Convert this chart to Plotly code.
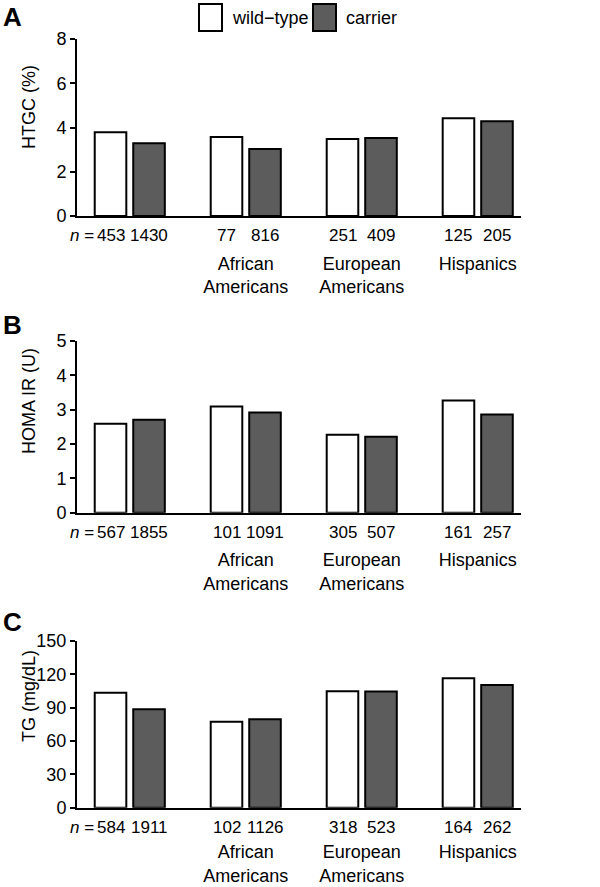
import plotly.graph_objects as go

W, H = 600, 887

groups = ["All", "African Americans", "European Americans", "Hispanics"]
group_labels = ["", "African<br>Americans", "European<br>Americans", "Hispanics"]

htgc_wt = [3.79, 3.57, 3.48, 4.42]
htgc_car = [3.29, 3.03, 3.53, 4.28]
htgc_n_wt = ["453", "77", "251", "125"]
htgc_n_car = ["1430", "816", "409", "205"]

homa_wt = [2.59, 3.09, 2.27, 3.27]
homa_car = [2.71, 2.92, 2.21, 2.86]
homa_n_wt = ["567", "101", "305", "161"]
homa_n_car = ["1855", "1091", "507", "257"]

tg_wt = [103.5, 77.4, 104.8, 116.5]
tg_car = [88.6, 79.5, 104.5, 110.4]
tg_n_wt = ["584", "102", "318", "164"]
tg_n_car = ["1911", "1126", "523", "262"]

panels = [
    dict(letter="A", title="HTGC (%)", wt=htgc_wt, car=htgc_car, nwt=htgc_n_wt, ncar=htgc_n_car,
         ymax=8, dtick=2, px_top=39, px_bot=216, title_y=107, letter_y=17, lab_gap=30),
    dict(letter="B", title="HOMA IR (U)", wt=homa_wt, car=homa_car, nwt=homa_n_wt, ncar=homa_n_car,
         ymax=5, dtick=1, px_top=341, px_bot=512.7, title_y=401, letter_y=325, lab_gap=30),
    dict(letter="C", title="TG (mg/dL)", wt=tg_wt, car=tg_car, nwt=tg_n_wt, ncar=tg_n_car,
         ymax=150, dtick=30, px_top=641, px_bot=807.7, title_y=696, letter_y=622, lab_gap=27),
]

WT_COLOR = "white"
CAR_COLOR = "#5c5c5c"
FONT = "Liberation Sans, Arial, Helvetica, sans-serif"
FS = 18
FS_N = 17

BARGAP = 0.336
BARGROUPGAP = 0.18
half_slot = (1 - BARGAP) / 4          # offset of each bar center from category center
bar_half_w = half_slot * (1 - BARGROUPGAP)

x_px0, x_px1 = 77, 521
x_range = [-0.455, 3.373]

fig = go.Figure()
annotations = []
layout_axes = {}

for k, p in enumerate(panels):
    sfx = "" if k == 0 else str(k + 1)
    xa, ya = "x" + sfx, "y" + sfx
    fig.add_trace(go.Bar(x=groups, y=p["wt"], name="wild−type", xaxis=xa, yaxis=ya,
                         marker=dict(color=WT_COLOR, line=dict(color="black", width=2)),
                         showlegend=False, hoverinfo="y"))
    fig.add_trace(go.Bar(x=groups, y=p["car"], name="carrier", xaxis=xa, yaxis=ya,
                         marker=dict(color=CAR_COLOR, line=dict(color="black", width=2)),
                         showlegend=False, hoverinfo="y"))
    ydom = [1 - p["px_bot"] / H, 1 - p["px_top"] / H]
    layout_axes["xaxis" + sfx] = dict(
        domain=[x_px0 / W, x_px1 / W], anchor=ya, type="category",
        categoryorder="array", categoryarray=groups, range=x_range,
        tickvals=groups, ticktext=group_labels,
        showline=True, linecolor="black", linewidth=2,
        ticks="outside", ticklen=p["lab_gap"], tickcolor="rgba(0,0,0,0)",
        showgrid=False, zeroline=False,
        tickfont=dict(family=FONT, size=FS, color="black"),
    )
    layout_axes["yaxis" + sfx] = dict(
        domain=ydom, anchor=xa, range=[0, p["ymax"]], dtick=p["dtick"], tick0=0,
        showline=True, linecolor="black", linewidth=2,
        ticks="outside", ticklen=5, tickwidth=2, tickcolor="black",
        showgrid=False, zeroline=False,
        tickfont=dict(family=FONT, size=FS, color="black"),
    )
    # n labels
    for i, g in enumerate(groups):
        annotations.append(dict(x=i - half_slot, y=0, xref=xa, yref=ya, text=p["nwt"][i],
                                showarrow=False, yanchor="top", yshift=-8,
                                font=dict(family=FONT, size=FS_N, color="black")))
        annotations.append(dict(x=i + half_slot, y=0, xref=xa, yref=ya, text=p["ncar"][i],
                                showarrow=False, yanchor="top", yshift=-8,
                                font=dict(family=FONT, size=FS_N, color="black")))
    annotations.append(dict(x=0 - half_slot - bar_half_w, y=0, xref=xa, yref=ya,
                            text="<i>n</i> =", showarrow=False, xanchor="right",
                            yanchor="top", yshift=-8, xshift=1,
                            font=dict(family=FONT, size=FS_N, color="black")))
    # y axis title
    annotations.append(dict(x=29 / W, y=1 - p["title_y"] / H, xref="paper", yref="paper",
                            text=p["title"], textangle=-90, showarrow=False,
                            xanchor="center", yanchor="middle",
                            font=dict(family=FONT, size=FS, color="black")))
    # panel letter
    annotations.append(dict(x=1 / W, y=1 - p["letter_y"] / H, xref="paper", yref="paper",
                            text="<b>" + p["letter"] + "</b>", showarrow=False,
                            xanchor="left", yanchor="middle",
                            font=dict(family=FONT, size=26, color="black")))

# custom legend
shapes = [
    dict(type="rect", xref="paper", yref="paper", x0=199 / W, x1=222 / W,
         y0=1 - 31 / H, y1=1 - 4 / H, fillcolor=WT_COLOR, line=dict(color="black", width=2)),
    dict(type="rect", xref="paper", yref="paper", x0=313 / W, x1=336 / W,
         y0=1 - 31 / H, y1=1 - 4 / H, fillcolor=CAR_COLOR, line=dict(color="black", width=2)),
]
annotations.append(dict(x=230 / W, y=1 - 18 / H, xref="paper", yref="paper", text="wild−type",
                        showarrow=False, xanchor="left", yanchor="middle",
                        font=dict(family=FONT, size=FS, color="black")))
annotations.append(dict(x=344 / W, y=1 - 18 / H, xref="paper", yref="paper", text="carrier",
                        showarrow=False, xanchor="left", yanchor="middle",
                        font=dict(family=FONT, size=FS, color="black")))

fig.update_layout(
    width=W, height=H,
    margin=dict(l=0, r=0, t=0, b=0, autoexpand=False),
    paper_bgcolor="white", plot_bgcolor="white",
    barmode="group", bargap=BARGAP, bargroupgap=BARGROUPGAP,
    annotations=annotations, shapes=shapes,
    font=dict(family=FONT, size=FS, color="black"),
    **layout_axes,
)

post = ("document.body.style.margin='0';"
        "var d=document.getElementById('{plot_id}');"
        "d.style.position='fixed';d.style.top='0px';d.style.left='0px';")
fig.write_html("out.html", post_script=post, config={"displayModeBar": False})
